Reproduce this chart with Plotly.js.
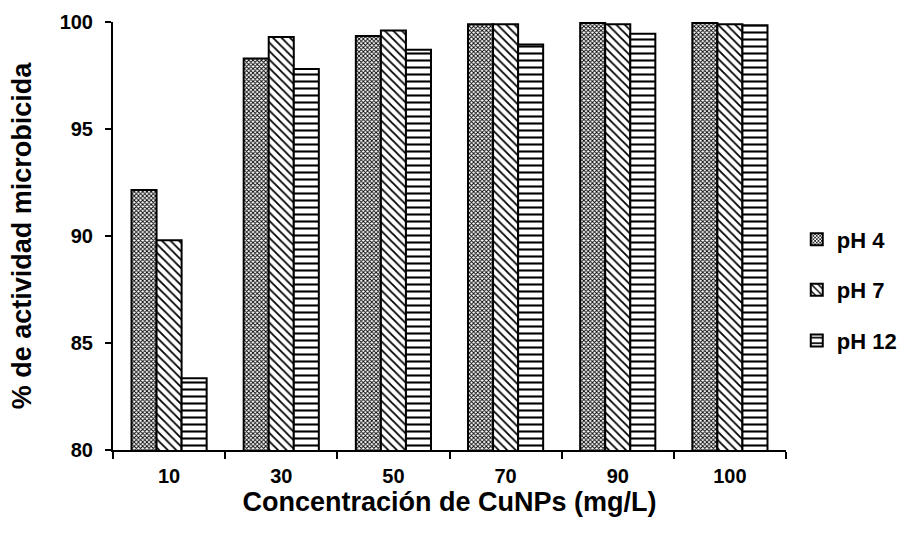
<!DOCTYPE html>
<html><head><meta charset="utf-8">
<script src="https://cdn.plot.ly/plotly-3.0.1.min.js"></script>
<style>body{margin:0;background:#fff}#c{width:904px;height:535px}</style>
</head><body><div id="c"></div>
<script>
const categories = ["10", "30", "50", "70", "90", "100"];
const seriesNames = ["pH 4", "pH 7", "pH 12"];
const ph4 = [92.15, 98.3, 99.35, 99.9, 99.95, 99.95];
const ph7 = [89.8, 99.3, 99.6, 99.9, 99.9, 99.9];
const ph12 = [83.35, 97.8, 98.7, 98.95, 99.45, 99.85];
const yTicks = [80, 85, 90, 95, 100];
const yRange = [80, 100];

const patterns = [
  {shape: "x", size: 3, solidity: 0.5},
  {shape: "\\", size: 6, solidity: 0.3},
  {shape: "-", size: 7, solidity: 0.3}
];
const values = [ph4, ph7, ph12];
const traces = values.map((v, i) => ({
  type: "bar", name: seriesNames[i], x: categories, y: v, legendgroup: "g" + i,
  marker: {color: "#fff", line: {color: "#000", width: 2},
    pattern: Object.assign({fgcolor: "#000", bgcolor: "#fff", fillmode: "replace"}, patterns[i])}
}));
// empty helper trace so the label axis (y2) is drawn
traces.push({type: "scatter", x: [], y: [], yaxis: "y2", showlegend: false, hoverinfo: "skip"});

const fam = "Liberation Sans, Arial, sans-serif";
const layout = {
  width: 904, height: 535,
  margin: {l: 113, r: 118, t: 22, b: 85, autoexpand: false},
  paper_bgcolor: "#fff", plot_bgcolor: "#fff",
  barmode: "group", bargap: 0.33, bargroupgap: 0,
  font: {family: fam, color: "#000"},
  showlegend: true,
  legend: {x: 1.016, y: 0.374, yanchor: "middle", xanchor: "left", traceorder: "grouped",
    font: {family: fam, size: 22, weight: "bold", color: "#000"},
    itemwidth: 30, tracegroupgap: 19, bgcolor: "rgba(0,0,0,0)"},
  xaxis: {type: "category", showgrid: false, showline: true, linecolor: "#000", linewidth: 2,
    ticks: "outside", tickson: "boundaries", ticklen: 7, tickwidth: 2, tickcolor: "#000",
    ticklabelstandoff: 7,
    tickfont: {family: fam, size: 20, weight: "bold", color: "#000"},
    title: {text: "Concentración de CuNPs (mg/L)", standoff: 2,
      font: {family: fam, size: 27, weight: "bold", color: "#000"}}},
  yaxis: {range: yRange, tickvals: yTicks, showgrid: false, zeroline: false,
    showline: true, linecolor: "#000", linewidth: 2,
    ticks: "outside", ticklen: 6, tickwidth: 2, tickcolor: "#000",
    showticklabels: false},
  yaxis2: {overlaying: "y", side: "left", anchor: "x", range: yRange, tickvals: yTicks,
    showgrid: false, zeroline: false, showline: false,
    ticks: "outside", ticklen: 15, tickwidth: 1, tickcolor: "rgba(0,0,0,0)",
    tickfont: {family: fam, size: 20, weight: "bold", color: "#000"},
    title: {text: "% de actividad microbicida", standoff: 20,
      font: {family: fam, size: 27, weight: "bold", color: "#000"}}}
};
Plotly.newPlot("c", traces, layout, {displayModeBar: false});
</script></body></html>
